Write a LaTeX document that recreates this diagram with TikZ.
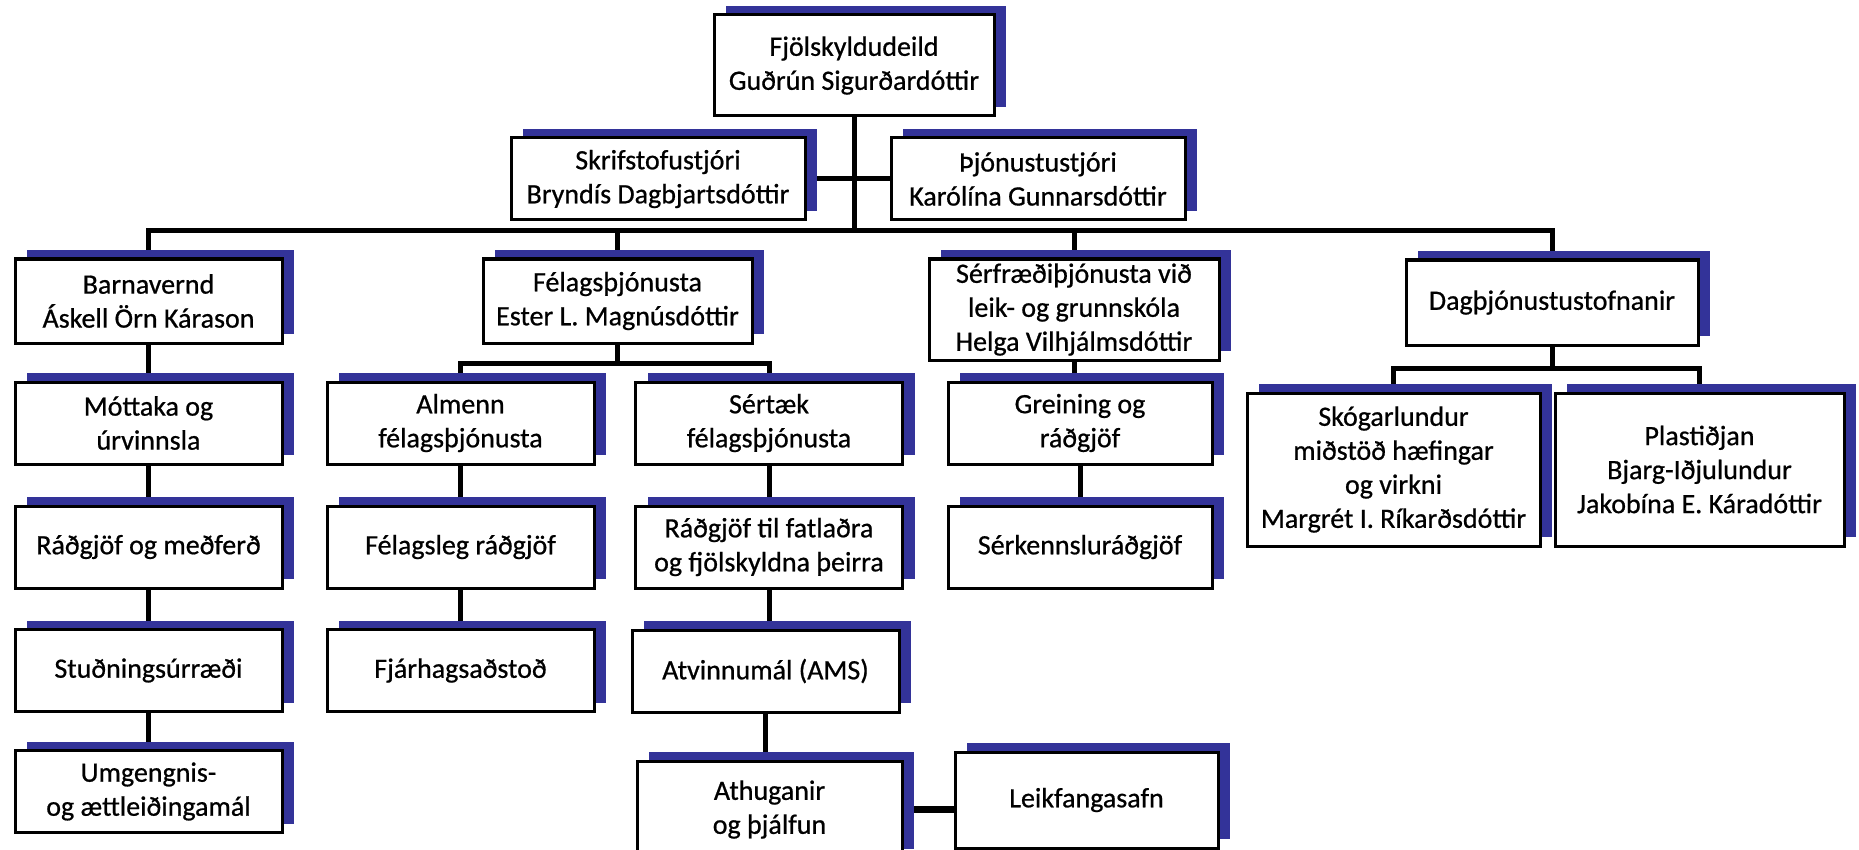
\documentclass[tikz,border=0pt]{standalone}
\usepackage{fontspec}
\setmainfont{Carlito}[FakeBold=0.7]
\usetikzlibrary{shadows, backgrounds}
\definecolor{shadowblue}{RGB}{51,51,153}

\begin{document}
\begin{tikzpicture}[x=1pt, y=-1pt,
  unit/.style={draw, rectangle, line width=3pt, fill=white, align=center,
    minimum width=267pt, minimum height=82pt, inner sep=0pt,
    font=\fontsize{28}{34}\selectfont,
    general shadow={fill=shadowblue, shadow xshift=12pt, shadow yshift=9pt}},
  link/.style={line width=5pt}]
\useasboundingbox (0,0) rectangle (1859,850);

% Head of department
\node[unit, minimum width=280pt, minimum height=101pt] (fjol) at (854,65.5) {Fjölskyldudeild\\Guðrún Sigurðardóttir};
\node[unit, minimum width=294pt] (skrif) at (658,179) {Skrifstofustjóri\\Bryndís Dagbjartsdóttir};
\node[unit, minimum width=294pt] (thjon) at (1038,179) {Þjónustustjóri\\Karólína Gunnarsdóttir};

% Divisions
\node[unit, minimum height=84pt] (barna) at (148.5,301) {Barnavernd\\Áskell Örn Kárason};
\node[unit, minimum width=269pt, minimum height=84pt] (felag) at (617.5,301) {Félagsþjónusta\\Ester L. Magnúsdóttir};
\node[unit, minimum width=290pt, minimum height=101pt] (serfr) at (1074,309.5) {Sérfræðiþjónusta við\\leik- og grunnskóla\\Helga Vilhjálmsdóttir};
\node[unit, minimum width=292pt, minimum height=85pt] (dag) at (1552,302.5) {Dagþjónustustofnanir};

% Third row
\node[unit] (mott) at (148.5,423) {Móttaka og\\úrvinnsla};
\node[unit] (almenn) at (460.5,423) {Almenn\\félagsþjónusta};
\node[unit] (sertaek) at (769,423) {Sértæk\\félagsþjónusta};
\node[unit, minimum width=264pt] (grein) at (1080,423) {Greining og\\ráðgjöf};
\node[unit, minimum width=293pt, minimum height=153pt] (skogar) at (1393.5,469.5) {Skógarlundur\\miðstöð hæfingar\\og virkni\\Margrét I. Ríkarðsdóttir};
\node[unit, minimum width=289pt, minimum height=153pt] (plast) at (1699.5,469.5) {Plastiðjan\\Bjarg-Iðjulundur\\Jakobína E. Káradóttir};

% Fourth row
\node[unit] (radmed) at (148.5,547) {Ráðgjöf og meðferð};
\node[unit] (felrad) at (460.5,547) {Félagsleg ráðgjöf};
\node[unit] (radfatl) at (769,547) {Ráðgjöf til fatlaðra\\og fjölskyldna þeirra};
\node[unit, minimum width=264pt] (serk) at (1080,547) {Sérkennsluráðgjöf};

% Fifth row
\node[unit] (studn) at (148.5,670.5) {Stuðningsúrræði};
\node[unit] (fjarh) at (460.5,670.5) {Fjárhagsaðstoð};
\node[unit] (atvinnu) at (765.5,671) {Atvinnumál (AMS)};

% Bottom row
\node[unit] (umg) at (148.5,791.5) {Umgengnis-\\og ættleiðingamál};
\node[unit, minimum width=265pt, minimum height=97pt] (athug) at (769.5,809.5) {Athuganir\\og þjálfun};
\node[unit, minimum width=263pt, minimum height=96pt] (leik) at (1086.5,800) {Leikfangasafn};

% Connectors
\begin{scope}[on background layer]
\fill[white] (0,0) rectangle (1859,850);
\coordinate (bus) at (854,231);
\coordinate (fsplit) at (617.5,363);
\coordinate (dsplit) at (1552,368);
\draw[link] (fjol.south) -- (bus);
\draw[link] (skrif.east) -- (thjon.west);
\draw[link] (barna.north) |- (bus) -| (dag.north);
\draw[link] (felag.north) -- (felag.north |- bus);
\draw[link] (serfr.north) -- (serfr.north |- bus);
\draw[link] (felag.south) -- (fsplit);
\draw[link] (almenn.north) |- (fsplit) -| (sertaek.north);
\draw[link] (dag.south) -- (dsplit);
\draw[link] (skogar.north) |- (dsplit) -| (plast.north);
\foreach \a/\b in {barna/mott, mott/radmed, radmed/studn, studn/umg,
    almenn/felrad, felrad/fjarh, sertaek/radfatl, radfatl/atvinnu,
    atvinnu/athug, serfr/grein, grein/serk}
  \draw[link] (\a.south) -- (\a.south |- \b.north);
\draw[link, line width=7pt] (athug.east) -- (athug.east -| leik.west);
\end{scope}
\end{tikzpicture}
\end{document}
